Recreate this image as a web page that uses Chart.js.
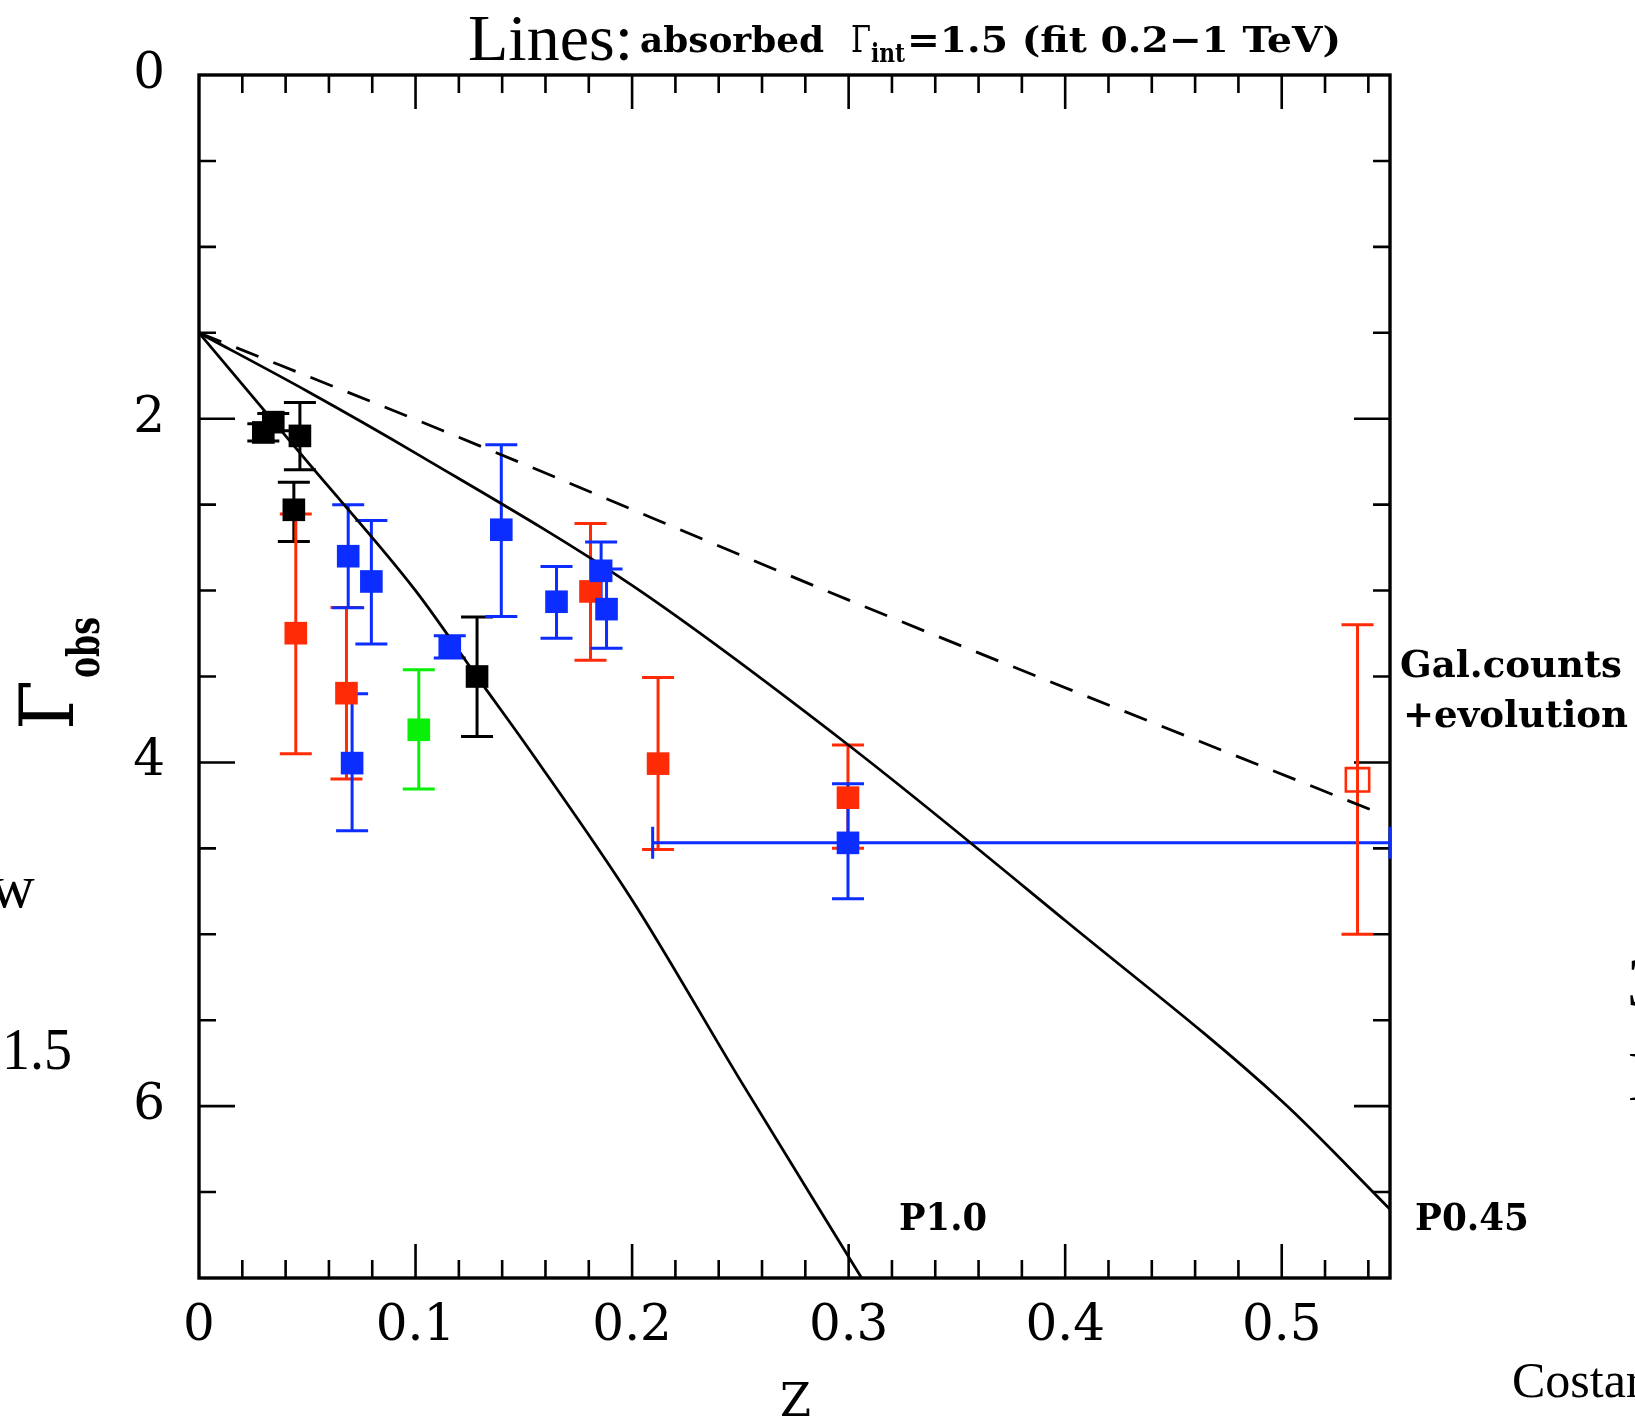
<!DOCTYPE html>
<html>
<head>
<meta charset="utf-8">
<title>Gamma_obs vs z</title>
<script src="https://cdn.jsdelivr.net/npm/chart.js@4.4.1/dist/chart.umd.min.js"></script>
<style>
  html, body { margin: 0; padding: 0; background: #fff; }
  #wrap { width: 1635px; height: 1417px; }
</style>
</head>
<body>
<div id="wrap"><canvas id="chart" width="1635" height="1417"></canvas></div>
<script>
// ========================== DATA ==========================
// tick values and labels
const zTickValues = [0, 0.1, 0.2, 0.3, 0.4, 0.5];
const zTickLabels = ["0", "0.1", "0.2", "0.3", "0.4", "0.5"];
const gTickValues = [0, 2, 4, 6];
const gTickLabels = ["0", "2", "4", "6"];

// black points: z, Gamma_obs, error low / high
const blackZ  = [0.0297, 0.0343, 0.0466, 0.0438, 0.1284];
const blackG  = [2.08, 2.02, 2.10, 2.53, 3.50];
const blackLo = [2.03, 1.97, 1.905, 2.37, 3.154];
const blackHi = [2.13, 2.07, 2.297, 2.714, 3.849];

// red filled points
const redZ  = [0.0447, 0.0681, 0.1808, 0.212, 0.2997];
const redG  = [3.248, 3.597, 3.005, 4.007, 4.205];
const redLo = [2.555, 3.098, 2.609, 3.506, 3.898];
const redHi = [3.95, 4.096, 3.405, 4.507, 4.499];

// blue points
const blueZ  = [0.0689, 0.0796, 0.0707, 0.1158, 0.1396, 0.1651, 0.1857, 0.1882, 0.2997];
const blueG  = [2.80, 2.947, 4.004, 3.325, 2.646, 3.065, 2.885, 3.108, 4.468];
const blueLo = [2.50, 2.592, 3.60, 3.263, 2.151, 2.86, 2.717, 2.875, 4.124];
const blueHi = [3.10, 3.311, 4.398, 3.393, 3.151, 3.277, 3.053, 3.335, 4.793];
// horizontal error of the last blue point
const blueZLo = [null, null, null, null, null, null, null, null, 0.2095];
const blueZHi = [null, null, null, null, null, null, null, null, 0.55];

// green point
const greenZ  = [0.1015];
const greenG  = [3.81];
const greenLo = [3.461];
const greenHi = [4.155];

// open red square
const openZ  = [0.535];
const openG  = [4.101];
const openLo = [3.199];
const openHi = [5.0];

// model curves, all starting at Gamma_int = 1.5
const p10Z = [0, 0.05, 0.1, 0.13, 0.15, 0.2, 0.25, 0.306];
const p10G = [1.5, 2.25, 3.0, 3.53, 3.88, 4.8, 5.85, 7.0];
const p045Z = [0, 0.05, 0.1, 0.2, 0.3, 0.4, 0.5, 0.55];
const p045G = [1.5, 1.84, 2.2, 2.97, 3.9, 4.92, 5.97, 6.6];
const galZ = [0, 0.1127, 0.3087, 0.546];
const galG = [1.5, 2.07, 3.10, 4.30];

// ========================== COLORS ==========================
const BLACK = "#000000";
const RED = "#ff2b06";
const BLUE = "#0b2dff";
const GREEN = "#08f008";

const pts = (xs, ys) => xs.map((v, i) => ({ x: v, y: ys[i] }));
const tickLabel = (vals, labs) => v => {
  const i = vals.findIndex(t => Math.abs(t - v) < 1e-6);
  return i < 0 ? "" : labs[i];
};

// error bar groups, drawn by plugin below
const errGroups = [
  { z: blackZ, g: blackG, lo: blackLo, hi: blackHi, color: BLACK },
  { z: redZ, g: redG, lo: redLo, hi: redHi, color: RED },
  { z: blueZ, g: blueG, lo: blueLo, hi: blueHi, zlo: blueZLo, zhi: blueZHi, color: BLUE },
  { z: greenZ, g: greenG, lo: greenLo, hi: greenHi, color: GREEN },
  { z: openZ, g: openG, lo: openLo, hi: openHi, color: RED }
];

// ========================== HELPERS ==========================
function putText(ctx, str, x, y, font, width) {
  ctx.font = font;
  const w = ctx.measureText(str).width;
  ctx.save();
  ctx.translate(x, y);
  if (width) ctx.scale(width / w, 1);
  ctx.fillText(str, 0, 0);
  ctx.restore();
}

// ========================== PLUGINS ==========================
// box frame with inward ticks on all four sides
const frameTicks = {
  id: "frameTicks",
  beforeDatasetsDraw(chart) {
    const { ctx, chartArea: a, scales: { x, y } } = chart;
    ctx.save();
    ctx.strokeStyle = BLACK;
    ctx.lineWidth = 2.6;
    ctx.beginPath();
    for (let i = 1; i <= 27; i++) {
      const px = x.getPixelForValue(i * 0.02);
      const len = i % 5 === 0 ? 34 : 18;
      ctx.moveTo(px, a.bottom); ctx.lineTo(px, a.bottom - len);
      ctx.moveTo(px, a.top); ctx.lineTo(px, a.top + len);
    }
    for (let i = 1; i <= 13; i++) {
      const py = y.getPixelForValue(i * 0.5);
      const len = i % 4 === 0 ? 36 : 17;
      ctx.moveTo(a.left, py); ctx.lineTo(a.left + len, py);
      ctx.moveTo(a.right, py); ctx.lineTo(a.right - len, py);
    }
    ctx.stroke();
    ctx.lineWidth = 3.4;
    ctx.strokeRect(a.left, a.top, a.right - a.left, a.bottom - a.top);
    ctx.restore();
  }
};

const errorBars = {
  id: "errorBars",
  beforeDatasetsDraw(chart) {
    const { ctx, scales: { x, y } } = chart;
    const cap = 16;
    ctx.save();
    ctx.lineWidth = 3;
    errGroups.forEach(gr => {
      ctx.strokeStyle = gr.color;
      gr.z.forEach((zv, i) => {
        const px = x.getPixelForValue(zv);
        const yTop = y.getPixelForValue(gr.lo[i]);
        const yBot = y.getPixelForValue(gr.hi[i]);
        ctx.beginPath();
        ctx.moveTo(px, yTop); ctx.lineTo(px, yBot);
        ctx.moveTo(px - cap, yTop); ctx.lineTo(px + cap, yTop);
        ctx.moveTo(px - cap, yBot); ctx.lineTo(px + cap, yBot);
        if (gr.zlo && gr.zlo[i] != null) {
          const py = y.getPixelForValue(gr.g[i]);
          const xl = x.getPixelForValue(gr.zlo[i]);
          const xr = x.getPixelForValue(gr.zhi[i]);
          ctx.moveTo(xl, py); ctx.lineTo(xr, py);
          ctx.moveTo(xl, py - cap); ctx.lineTo(xl, py + cap);
          ctx.moveTo(xr, py - cap); ctx.lineTo(xr, py + cap);
        }
        ctx.stroke();
      });
    });
    ctx.restore();
  }
};

// titles and annotations
const labels = {
  id: "labels",
  afterDraw(chart) {
    const { ctx } = chart;
    const SERIF = "'Liberation Serif', serif";
    const SLAB = "'DejaVu Serif', serif";
    ctx.save();
    ctx.fillStyle = BLACK;
    ctx.textBaseline = "alphabetic";
    ctx.textAlign = "left";

    // top line
    putText(ctx, "Lines:", 468, 60, `66px ${SERIF}`, 165);
    putText(ctx, "absorbed", 640, 52, `bold 36px ${SLAB}`, 184);
    putText(ctx, "Γ", 851, 52, `38px ${SLAB}`, 20);
    putText(ctx, "int", 871, 62, `bold 26px ${SLAB}`, 34);
    putText(ctx, "=1.5 (fit 0.2−1 TeV)", 907, 52, `bold 36px ${SLAB}`, 434);

    // curve labels
    putText(ctx, "P1.0", 899, 1230, `bold 37px ${SLAB}`, 88);
    putText(ctx, "P0.45", 1415, 1230, `bold 37px ${SLAB}`, 114);
    putText(ctx, "Gal.counts", 1400, 677, `bold 37px ${SLAB}`, 222);
    putText(ctx, "+evolution", 1403, 727, `bold 37px ${SLAB}`, 225);

    // x axis title
    putText(ctx, "Z", 780, 1416, `47px ${SLAB}`, 31);

    // y axis title, rotated
    ctx.save();
    ctx.translate(73, 730);
    ctx.rotate(-Math.PI / 2);
    putText(ctx, "Γ", 0, 0, `74px ${SLAB}`, 50);
    putText(ctx, "obs", 52, 26, `bold 44px ${SLAB}`, 61);
    ctx.restore();

    // surrounding slide text
    putText(ctx, "w", -10, 907, `62px ${SERIF}`);
    putText(ctx, "1.5", 2, 1069, `60px ${SERIF}`, 70);
    putText(ctx, "Costar", 1512, 1397, `50px ${SERIF}`);
    putText(ctx, "3", 1627, 1006, `70px ${SERIF}`);
    putText(ctx, "E", 1628, 1100, `70px ${SERIF}`);
    ctx.restore();
  }
};

// ========================== CHART ==========================
const markerBase = { pointStyle: "rect", pointRadius: 16, borderWidth: 0, showLine: false };
const lineBase = { showLine: true, pointRadius: 0, borderColor: BLACK, borderWidth: 2.8, fill: false, cubicInterpolationMode: "monotone" };

new Chart(document.getElementById("chart"), {
  type: "scatter",
  data: {
    datasets: [
      { ...markerBase, label: "black", data: pts(blackZ, blackG), backgroundColor: BLACK, borderColor: BLACK },
      { ...markerBase, label: "blue", data: pts(blueZ, blueG), backgroundColor: BLUE, borderColor: BLUE },
      { ...markerBase, label: "red", data: pts(redZ, redG), backgroundColor: RED, borderColor: RED },
      { ...markerBase, label: "green", data: pts(greenZ, greenG), backgroundColor: GREEN, borderColor: GREEN },
      { ...markerBase, label: "open", data: pts(openZ, openG), backgroundColor: "rgba(0,0,0,0)", borderColor: RED, borderWidth: 2.6, pointRadius: 16.5 },
      { ...lineBase, label: "P1.0", data: pts(p10Z, p10G) },
      { ...lineBase, label: "P0.45", data: pts(p045Z, p045G) },
      { ...lineBase, label: "Gal.counts", data: pts(galZ, galG), borderDash: [24, 16] }
    ]
  },
  options: {
    responsive: false,
    devicePixelRatio: 1,
    animation: false,
    layout: { padding: { left: 0, top: 75, right: 245, bottom: 0 } },
    plugins: { legend: { display: false }, tooltip: { enabled: false } },
    scales: {
      x: {
        type: "linear", min: 0, max: 0.55,
        grid: { display: false, drawTicks: false },
        border: { display: false },
        ticks: {
          stepSize: 0.1, includeBounds: false, autoSkip: false, maxRotation: 0,
          padding: 19, color: BLACK,
          font: { family: "'DejaVu Serif', serif", size: 50 },
          callback: tickLabel(zTickValues, zTickLabels)
        },
        afterFit(s) { s.height = 139; }
      },
      y: {
        type: "linear", min: 0, max: 7, reverse: true,
        grid: { display: false, drawTicks: false },
        border: { display: false },
        ticks: {
          stepSize: 2, includeBounds: false, autoSkip: false,
          padding: 34, color: BLACK,
          font: { family: "'DejaVu Serif', serif", size: 50 },
          callback: tickLabel(gTickValues, gTickLabels)
        },
        afterFit(s) { s.width = 199; }
      }
    }
  },
  plugins: [frameTicks, errorBars, labels]
});
</script>
</body>
</html>
